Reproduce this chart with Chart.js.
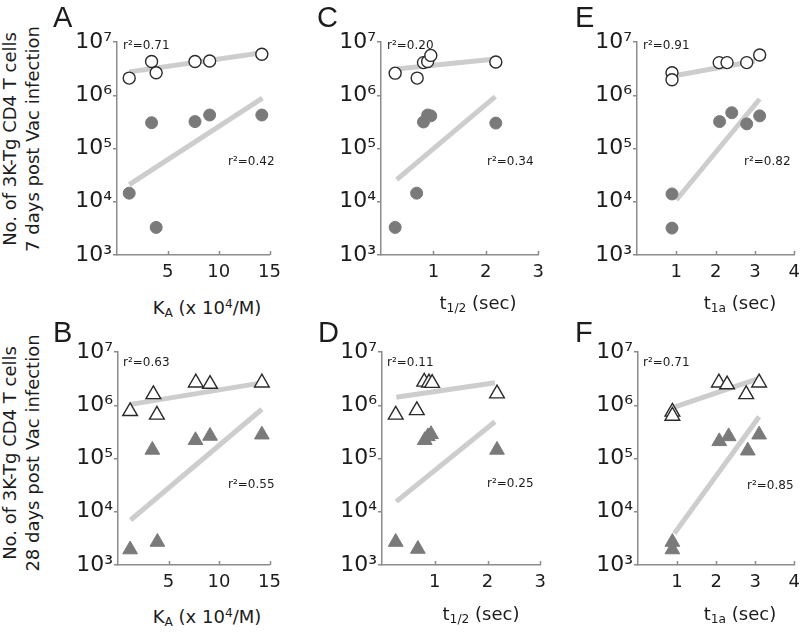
<!DOCTYPE html>
<html>
<head>
<meta charset="utf-8">
<script src="https://cdn.jsdelivr.net/npm/chart.js@4.4.1/dist/chart.umd.min.js"></script>
<style>
  body { margin: 0; background: #fff; }
  #fig { position: relative; width: 807px; height: 632px; background: #fff; overflow: hidden; font-family: "DejaVu Sans", sans-serif; color: #1c1c1c; }
  .txt { position: absolute; white-space: nowrap; line-height: 1; }
  .letter { font-family: "Liberation Sans", Arial, sans-serif; font-size: 29px; }
  .xt { font-size: 18px; width: 200px; text-align: center; }
  .r2 { font-size: 12px; }
  .yt { position: absolute; width: 260px; height: 46px; line-height: 23px; font-size: 18px; text-align: center; white-space: nowrap; transform: rotate(-90deg); transform-origin: 50% 50%; }
  sub, sup { font-size: 0.68em; line-height: 0; position: relative; vertical-align: baseline; }
  sub { top: 0.3em; }
  sup { top: -0.45em; }
</style>
</head>
<body>
<div id="fig"></div>
<script>
// DATA  (open = circles/triangles outlined, filled = grey)
// A : KA, day 7
const xOpenA = [1.2, 3.4, 3.85, 7.67, 9.11, 14.24];
const openA = [2.1e6, 4.3e6, 2.65e6, 4.3e6, 4.4e6, 5.9e6];
const xFilledA = [1.2, 3.4, 3.85, 7.67, 9.11, 14.24];
const filledA = [1.45e4, 3.05e5, 3.3e3, 3.2e5, 4.25e5, 4.25e5];
const fitXOpenA = [1.2, 14.3], fitOpenA = [2.75e6, 6.3e6];
const fitXFilledA = [1.2, 14.3], fitFilledA = [2.1e4, 8.8e5];

// C : t1/2, day 7
const xOpenC = [0.27, 0.69, 0.81, 0.89, 0.95, 2.19];
const openC = [2.6e6, 2.1e6, 4.1e6, 4.3e6, 5.6e6, 4.2e6];
const xFilledC = [0.27, 0.68, 0.81, 0.89, 0.95, 2.19];
const filledC = [3.3e3, 1.45e4, 3.15e5, 4.25e5, 4.1e5, 3.0e5];
const fitXOpenC = [0.3, 2.18], fitOpenC = [3.1e6, 4.8e6];
const fitXFilledC = [0.3, 2.18], fitFilledC = [2.6e4, 9.4e5];

// E : t1a, day 7
const xOpenE = [0.89, 0.89, 2.09, 2.29, 2.79, 3.12];
const openE = [2.65e6, 1.95e6, 4.1e6, 4.1e6, 4.1e6, 5.7e6];
const xFilledE = [0.89, 0.89, 2.10, 2.41, 2.79, 3.12];
const filledE = [1.4e4, 3.2e3, 3.2e5, 4.7e5, 2.9e5, 4.1e5];
const fitXOpenE = [0.92, 3.0], fitOpenE = [2.3e6, 4.4e6];
const fitXFilledE = [1.0, 3.12], fitFilledE = [1.08e4, 8.5e5];

// B : KA, day 28
const xOpenB = [1.2, 3.5, 3.85, 7.7, 9.11, 14.24];
const openB = [7.7e5, 1.6e6, 6.6e5, 2.65e6, 2.5e6, 2.65e6];
const xFilledB = [1.2, 3.4, 3.9, 7.67, 9.11, 14.24];
const filledB = [1.95e3, 1.45e5, 2.7e3, 2.2e5, 2.65e5, 2.8e5];
const fitXOpenB = [1.25, 14.1], fitOpenB = [1.04e6, 2.6e6];
const fitXFilledB = [1.25, 14.24], fitFilledB = [7e3, 8.4e5];

// D : t1/2, day 28
const xOpenD = [0.26, 0.66, 0.80, 0.89, 0.95, 2.18];
const openD = [6.6e5, 8.0e5, 2.75e6, 2.65e6, 2.6e6, 1.65e6];
const xFilledD = [0.26, 0.68, 0.81, 0.87, 0.93, 2.18];
const filledD = [2.7e3, 2.0e3, 2.2e5, 2.6e5, 2.85e5, 1.45e5];
const fitXOpenD = [0.27, 2.14], fitOpenD = [1.41e6, 2.65e6];
const fitXFilledD = [0.27, 2.14], fitFilledD = [1.55e4, 4.9e5];

// F : t1a, day 28
const xOpenF = [0.88, 0.88, 2.07, 2.28, 2.77, 3.1];
const openF = [7.5e5, 6.3e5, 2.65e6, 2.45e6, 1.6e6, 2.65e6];
const xFilledF = [0.88, 0.88, 2.08, 2.32, 2.81, 3.1];
const filledF = [2.7e3, 1.95e3, 2.1e5, 2.6e5, 1.4e5, 2.8e5];
const fitXOpenF = [0.91, 3.1], fitOpenF = [9.1e5, 3.2e6];
const fitXFilledF = [0.93, 3.1], fitFilledF = [3.9e3, 6.1e5];

// ticks
const decades = [1e3, 1e4, 1e5, 1e6, 1e7];
const kaTicks = [5, 10, 15];
const halfTicks = [1, 2, 3];
const t1aTicks = [1, 2, 3, 4];

const axisGrey = '#8c8c8c';
const lineGrey = '#cdcdcd';
const sup = {3: '\u00b3', 4: '\u2074', 5: '\u2075', 6: '\u2076', 7: '\u2077'};

const fig = document.getElementById('fig');

function pts(xs, ys) {
  return xs.map((x, i) => ({x: x, y: ys[i]}));
}

// small x ticks pointing up into the plot
const innerTicks = {
  id: 'innerTicks',
  afterDraw(chart) {
    const sx = chart.scales.x, ctx = chart.ctx, b = chart.chartArea.bottom;
    ctx.save();
    ctx.strokeStyle = axisGrey;
    ctx.lineWidth = 1.5;
    sx.ticks.forEach(t => {
      const px = Math.round(sx.getPixelForValue(t.value)) + 0.5;
      ctx.beginPath();
      ctx.moveTo(px, b);
      ctx.lineTo(px, b - 4);
      ctx.stroke();
    });
    ctx.restore();
  }
};

function makePanel(p) {
  const left = p.axL - 62, top = p.axT - 42;
  const w = p.axR + 5 - left, h = p.axB + 40 - top;
  const cv = document.createElement('canvas');
  cv.width = w;
  cv.height = h;
  cv.style.cssText = `position:absolute;left:${left}px;top:${top}px;width:${w}px;height:${h}px`;
  fig.appendChild(cv);

  new Chart(cv, {
    type: 'scatter',
    data: {
      datasets: [
        { data: pts(p.xOpen, p.open), pointStyle: p.shape, pointRadius: p.r, backgroundColor: '#ffffff', borderColor: '#2a2a2a', borderWidth: 1.4, clip: false },
        { data: pts(p.xFilled, p.filled), pointStyle: p.shape, pointRadius: p.r, backgroundColor: '#7a7a7a', borderColor: '#7a7a7a', borderWidth: 1, clip: false },
        { data: pts(p.fitXOpen, p.fitOpen), showLine: true, borderColor: lineGrey, borderWidth: 5, pointRadius: 0, clip: false },
        { data: pts(p.fitXFilled, p.fitFilled), showLine: true, borderColor: lineGrey, borderWidth: 5, pointRadius: 0, clip: false }
      ]
    },
    options: {
      responsive: false,
      animation: false,
      devicePixelRatio: 1,
      events: [],
      layout: { autoPadding: false, padding: { left: 0, right: 5, top: 42, bottom: 0 } },
      plugins: { legend: { display: false }, tooltip: { enabled: false } },
      scales: {
        x: {
          type: 'linear', min: 0, max: p.xMax,
          afterFit: s => { s.height = 40; },
          afterBuildTicks: s => { s.ticks = p.xTicks.map(v => ({value: v})); },
          grid: { display: false, drawTicks: false },
          border: { color: axisGrey, width: 1.5 },
          ticks: { font: { family: 'DejaVu Sans', size: 18 }, color: '#1c1c1c', padding: 7, maxRotation: 0 }
        },
        y: {
          type: 'logarithmic', min: 1e3, max: 1e7,
          afterFit: s => { s.width = 62; },
          afterBuildTicks: s => { s.ticks = decades.map(v => ({value: v})); },
          grid: { drawOnChartArea: false, tickLength: 4, color: axisGrey, lineWidth: 1.5 },
          border: { color: axisGrey, width: 1.5 },
          ticks: {
            font: { family: 'DejaVu Sans', size: 22 }, color: '#1c1c1c', padding: 1,
            callback: v => '10' + sup[Math.round(Math.log10(v))]
          }
        }
      }
    },
    plugins: [innerTicks]
  });
}

function addText(cls, html, x, baseline, size) {
  const d = document.createElement('div');
  d.className = 'txt ' + cls;
  d.innerHTML = html;
  d.style.left = x + 'px';
  d.style.top = (baseline - 0.846 * size) + 'px';
  fig.appendChild(d);
}

const kaTitle = 'K<sub>A</sub> (x 10<sup>4</sup>/M)';
const halfTitle = 't<sub>1/2</sub> (sec)';
const t1aTitle = 't<sub>1a</sub> (sec)';

const panels = [
  { L: 'A', lx: 53, ly: 28, axL: 117, axR: 283, axT: 42, axB: 255, xMax: 15, xTicks: kaTicks, shape: 'circle', r: 6,
    xOpen: xOpenA, open: openA, xFilled: xFilledA, filled: filledA, fitXOpen: fitXOpenA, fitOpen: fitOpenA, fitXFilled: fitXFilledA, fitFilled: fitFilledA,
    title: kaTitle, tx: 207, ty: 314, r2a: '0.71', r2b: '0.42', ra: [123, 49], rb: [228, 165] },
  { L: 'C', lx: 317, ly: 28, axL: 381, axR: 546, axT: 42, axB: 255, xMax: 3, xTicks: halfTicks, shape: 'circle', r: 6,
    xOpen: xOpenC, open: openC, xFilled: xFilledC, filled: filledC, fitXOpen: fitXOpenC, fitOpen: fitOpenC, fitXFilled: fitXFilledC, fitFilled: fitFilledC,
    title: halfTitle, tx: 478, ty: 309, r2a: '0.20', r2b: '0.34', ra: [387, 49], rb: [487, 165] },
  { L: 'E', lx: 575, ly: 28, axL: 637, axR: 802, axT: 42, axB: 255, xMax: 4, xTicks: t1aTicks, shape: 'circle', r: 6,
    xOpen: xOpenE, open: openE, xFilled: xFilledE, filled: filledE, fitXOpen: fitXOpenE, fitOpen: fitOpenE, fitXFilled: fitXFilledE, fitFilled: fitFilledE,
    title: t1aTitle, tx: 740, ty: 309, r2a: '0.91', r2b: '0.82', ra: [643, 49], rb: [744, 165] },
  { L: 'B', lx: 53, ly: 343, axL: 118, axR: 283, axT: 352, axB: 565, xMax: 15, xTicks: kaTicks, shape: 'triangle', r: 8.5,
    xOpen: xOpenB, open: openB, xFilled: xFilledB, filled: filledB, fitXOpen: fitXOpenB, fitOpen: fitOpenB, fitXFilled: fitXFilledB, fitFilled: fitFilledB,
    title: kaTitle, tx: 207, ty: 623, r2a: '0.63', r2b: '0.55', ra: [123, 366], rb: [228, 488] },
  { L: 'D', lx: 318, ly: 343, axL: 382, axR: 548, axT: 352, axB: 565, xMax: 3, xTicks: halfTicks, shape: 'triangle', r: 8.5,
    xOpen: xOpenD, open: openD, xFilled: xFilledD, filled: filledD, fitXOpen: fitXOpenD, fitOpen: fitOpenD, fitXFilled: fitXFilledD, fitFilled: fitFilledD,
    title: halfTitle, tx: 481, ty: 620, r2a: '0.11', r2b: '0.25', ra: [387, 366], rb: [487, 487] },
  { L: 'F', lx: 575, ly: 343, axL: 638, axR: 802, axT: 352, axB: 565, xMax: 4, xTicks: t1aTicks, shape: 'triangle', r: 8.5,
    xOpen: xOpenF, open: openF, xFilled: xFilledF, filled: filledF, fitXOpen: fitXOpenF, fitOpen: fitOpenF, fitXFilled: fitXFilledF, fitFilled: fitFilledF,
    title: t1aTitle, tx: 740, ty: 620, r2a: '0.71', r2b: '0.85', ra: [643, 366], rb: [747, 489] }
];

panels.forEach(p => {
  makePanel(p);
  addText('letter', p.L, p.lx, p.ly, 29);
  addText('xt', p.title, p.tx - 100, p.ty, 18);
  addText('r2', 'r\u00b2=' + p.r2a, p.ra[0], p.ra[1], 12);
  addText('r2', 'r\u00b2=' + p.r2b, p.rb[0], p.rb[1], 12);
});

// y axis titles (rotated, two lines)
[['No. of 3K-Tg CD4 T cells', '7 days post Vac infection', 139],
 ['No. of 3K-Tg CD4 T cells', '28 days post Vac infection', 453]].forEach(t => {
  const d = document.createElement('div');
  d.className = 'yt';
  d.innerHTML = t[0] + '<br>' + t[1];
  d.style.left = (21.3 - 130) + 'px';
  d.style.top = (t[2] - 23) + 'px';
  fig.appendChild(d);
});
</script>
</body>
</html>
